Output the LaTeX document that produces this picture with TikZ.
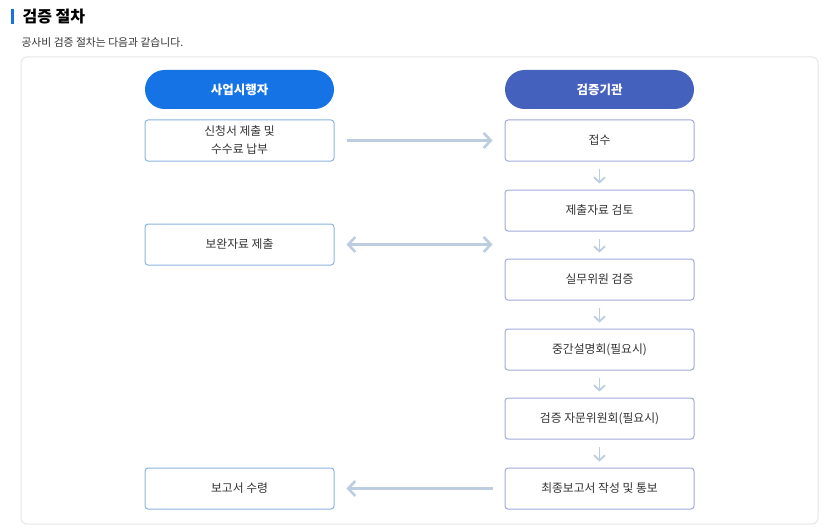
\documentclass[tikz,border=0pt]{standalone}
\usepackage{fontspec}
\newfontfamily\kr{Noto Sans CJK KR}
\usetikzlibrary{arrows.meta}
\definecolor{bizblue}{HTML}{1673E6}
\definecolor{orgblue}{HTML}{4561BE}
\definecolor{leftline}{HTML}{8BB4E0}
\definecolor{rightline}{HTML}{A2AADB}
\definecolor{flowline}{HTML}{BCCDE0}
\definecolor{panelline}{HTML}{E6E6E6}
\definecolor{txt}{HTML}{333333}

\begin{document}
\begin{tikzpicture}[
    x=1pt, y=-1pt,
    hdr/.style={rectangle, rounded corners=19.5pt, minimum width=189pt,
      minimum height=39pt, text=white, font=\kr\bfseries\fontsize{12.5}{15}\selectfont},
    lbox/.style={rectangle, draw=leftline, line width=1pt, fill=white,
      rounded corners=3pt, minimum width=189pt, minimum height=41pt,
      align=center, text=txt, font=\kr\fontsize{11.8}{18}\selectfont},
    rbox/.style={lbox, draw=rightline},
    harr/.style={flowline, line width=2.6pt, shorten >=12pt, shorten <=12pt},
    varr/.style={-{Straight Barb[length=5pt, width=11pt]}, flowline,
      line width=1.8pt, shorten >=6pt, shorten <=7pt},
  ]
  \useasboundingbox (0,0) rectangle (835,532);

  % heading
  \fill[bizblue] (11,9) rectangle (13.5,24);
  \node[anchor=west, text=black, font=\kr\bfseries\fontsize{16}{18}\selectfont]
    (title) at (19,16.5) {검증 절차};
  \node[anchor=west, text=txt, font=\kr\fontsize{10.8}{12}\selectfont]
    (intro) at (18,42.5) {공사비 검증 절차는 다음과 같습니다.};

  % panel
  \draw[panelline, line width=1pt, rounded corners=6pt] (21,57) rectangle (818,524);

  % columns
  \node[hdr, fill=bizblue] (biz) at (239.5,89.5) {사업시행자};
  \node[hdr, fill=orgblue] (org) at (599.5,89.5) {검증기관};

  \node[lbox] (apply) at (239.5,140.5) {신청서 제출 및\\수수료 납부};
  \node[lbox] (supp) at (239.5,244.5) {보완자료 제출};
  \node[lbox] (recv) at (239.5,488.5) {보고서 수령};

  \node[rbox] (r1) at (599.5,140.5) {접수};
  \node[rbox] (r2) at (599.5,210.5) {제출자료 검토};
  \node[rbox] (r3) at (599.5,279.5) {실무위원 검증};
  \node[rbox] (r4) at (599.5,349.5) {중간설명회(필요시)};
  \node[rbox] (r5) at (599.5,418.5) {검증 자문위원회(필요시)};
  \node[rbox] (r6) at (599.5,488.5) {최종보고서 작성 및 통보};

  % flows
  \draw[harr, -{Straight Barb[length=7pt, width=15pt]}] (apply) -- (r1);
  \draw[harr, {Straight Barb[length=7pt, width=15pt]}-{Straight Barb[length=7pt, width=15pt]}]
    (supp.east) -- (supp.east -| r2.west);
  \draw[harr, -{Straight Barb[length=7pt, width=15pt]}] (r6) -- (recv);
  \foreach \a/\b in {r1/r2, r2/r3, r3/r4, r4/r5, r5/r6}
    \draw[varr] (\a) -- (\b);
\end{tikzpicture}
\end{document}
